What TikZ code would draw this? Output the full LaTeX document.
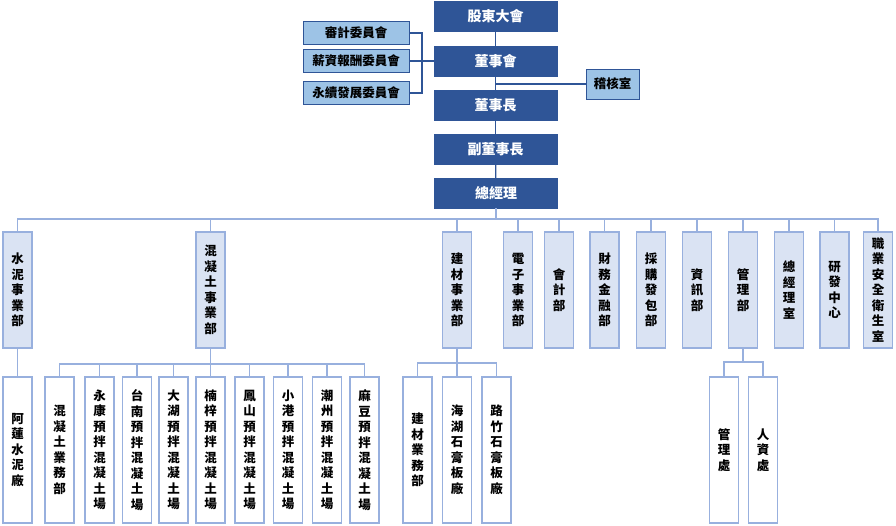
\documentclass[tikz,border=0pt]{standalone}
\usepackage{fontspec}
\newfontfamily\cjk{Noto Sans CJK TC}
\definecolor{darkBlue}{HTML}{2F5597}
\definecolor{midBlue}{HTML}{9DC3E6}
\definecolor{paleBlue}{HTML}{DAE3F3}
\definecolor{lineBlue}{HTML}{98B0DE}
\begin{document}
\begin{tikzpicture}[x=1pt, y=-1pt,
    topStyle/.style={rectangle, draw=darkBlue, fill=darkBlue, text=white, minimum width=123pt, minimum height=30pt, inner sep=0pt, font=\cjk\bfseries\fontsize{14}{16}\selectfont},
    sideStyle/.style={rectangle, draw=darkBlue, line width=1pt, fill=midBlue, minimum height=23pt, inner sep=0pt, font=\cjk\bfseries\fontsize{12.5}{15}\selectfont},
    deptStyle/.style={rectangle, draw=lineBlue, line width=1.2pt, fill=paleBlue, minimum width=29pt, minimum height=116pt, inner sep=0pt, align=center, font=\cjk\bfseries\fontsize{12.5}{15.5}\selectfont},
    unitStyle/.style={rectangle, draw=lineBlue, line width=1.2pt, fill=white, minimum width=29pt, minimum height=146pt, inner sep=0pt, align=center, font=\cjk\bfseries\fontsize{12.5}{15.5}\selectfont},
    topLine/.style={draw=darkBlue, line width=1.2pt},
    busLine/.style={draw=lineBlue, line width=1.2pt}]
    \useasboundingbox (0,0) rectangle (896,525);

    % top of the chart
    \node[topStyle](agm) at (495.5, 16) {股東大會};
    \node[topStyle](board) at (495.5, 61) {董事會};
    \node[topStyle](chair) at (495.5, 105) {董事長};
    \node[topStyle](vice) at (495.5, 149) {副董事長};
    \node[topStyle](gm) at (496, 193) {總經理};

    \node[sideStyle, minimum width=106pt](audit) at (356, 33) {審計委員會};
    \node[sideStyle, minimum width=106pt](salary) at (356, 61) {薪資報酬委員會};
    \node[sideStyle, minimum width=106pt](esg) at (356, 93) {永續發展委員會};
    \node[sideStyle, minimum width=53pt, minimum height=30pt](check) at (612.5, 84) {稽核室};

    \coordinate (cj) at (422, 61);
    \draw[topLine] (agm) -- (board);
    \draw[topLine] (board) -- (chair);
    \draw[topLine] (chair) -- (vice);
    \draw[topLine] (vice) -- (gm);
    \draw[topLine] (audit.east) -| (cj);
    \draw[topLine] (esg.east) -| (cj);
    \draw[topLine] (salary.east) -- (board.west);
    \draw[topLine] (check.west) -- (check.west -| board.south);

    % departments
    \node[deptStyle](cement) at (17.5, 290) {水\\泥\\事\\業\\部};
    \node[deptStyle](concrete) at (210.5, 290) {混\\凝\\土\\事\\業\\部};
    \node[deptStyle](build) at (457, 290) {建\\材\\事\\業\\部};
    \node[deptStyle](elec) at (518, 290) {電\\子\\事\\業\\部};
    \node[deptStyle](acct) at (559, 290) {會\\計\\部};
    \node[deptStyle](fin) at (604.5, 290) {財\\務\\金\\融\\部};
    \node[deptStyle](buy) at (651, 290) {採\\購\\發\\包\\部};
    \node[deptStyle](info) at (697, 290) {資\\訊\\部};
    \node[deptStyle](admin) at (743, 290) {管\\理\\部};
    \node[deptStyle](gmo) at (789, 290) {總\\經\\理\\室};
    \node[deptStyle](rd) at (834.5, 290) {研\\發\\中\\心};
    \node[deptStyle](safety) at (878, 290) {職\\業\\安\\全\\衛\\生\\室};

    \coordinate (bus) at (496, 219);
    \draw[busLine] (gm) -- (bus);
    \draw[busLine] (cement.north) |- (bus) -| (safety.north);
    \draw[busLine] (concrete.north) -- (concrete.north |- bus);
    \draw[busLine] (build.north) -- (build.north |- bus);
    \draw[busLine] (elec.north) -- (elec.north |- bus);
    \draw[busLine] (acct.north) -- (acct.north |- bus);
    \draw[busLine] (fin.north) -- (fin.north |- bus);
    \draw[busLine] (buy.north) -- (buy.north |- bus);
    \draw[busLine] (info.north) -- (info.north |- bus);
    \draw[busLine] (admin.north) -- (admin.north |- bus);
    \draw[busLine] (gmo.north) -- (gmo.north |- bus);
    \draw[busLine] (rd.north) -- (rd.north |- bus);

    % units
    \node[unitStyle](alian) at (17.5, 450) {阿\\蓮\\水\\泥\\廠};
    \node[unitStyle](c1) at (59.5, 450) {混\\凝\\土\\業\\務\\部};
    \node[unitStyle](c2) at (99.5, 450) {永\\康\\預\\拌\\混\\凝\\土\\場};
    \node[unitStyle](c3) at (137, 450) {台\\南\\預\\拌\\混\\凝\\土\\場};
    \node[unitStyle](c4) at (173.5, 450) {大\\湖\\預\\拌\\混\\凝\\土\\場};
    \node[unitStyle](c5) at (210.5, 450) {楠\\梓\\預\\拌\\混\\凝\\土\\場};
    \node[unitStyle](c6) at (249.5, 450) {鳳\\山\\預\\拌\\混\\凝\\土\\場};
    \node[unitStyle](c7) at (288, 450) {小\\港\\預\\拌\\混\\凝\\土\\場};
    \node[unitStyle](c8) at (327, 450) {潮\\州\\預\\拌\\混\\凝\\土\\場};
    \node[unitStyle](c9) at (364.5, 450) {麻\\豆\\預\\拌\\混\\凝\\土\\場};
    \node[unitStyle](b1) at (417.5, 450) {建\\材\\業\\務\\部};
    \node[unitStyle](b2) at (457, 450) {海\\湖\\石\\膏\\板\\廠};
    \node[unitStyle](b3) at (496.5, 450) {路\\竹\\石\\膏\\板\\廠};
    \node[unitStyle](m1) at (724, 450) {管\\理\\處};
    \node[unitStyle](m2) at (763, 450) {人\\資\\處};

    \coordinate (cbus) at (210.5, 364);
    \coordinate (bbus) at (457, 363);
    \coordinate (mbus) at (743, 362);
    \draw[busLine] (cement) -- (alian);
    \draw[busLine] (concrete) -- (cbus);
    \draw[busLine] (c1.north) |- (cbus) -| (c9.north);
    \draw[busLine] (c2.north) -- (c2.north |- cbus);
    \draw[busLine] (c3.north) -- (c3.north |- cbus);
    \draw[busLine] (c4.north) -- (c4.north |- cbus);
    \draw[busLine] (c5.north) -- (c5.north |- cbus);
    \draw[busLine] (c6.north) -- (c6.north |- cbus);
    \draw[busLine] (c7.north) -- (c7.north |- cbus);
    \draw[busLine] (c8.north) -- (c8.north |- cbus);
    \draw[busLine] (build) -- (bbus);
    \draw[busLine] (b1.north) |- (bbus) -| (b3.north);
    \draw[busLine] (b2.north) -- (b2.north |- bbus);
    \draw[busLine] (admin) -- (mbus);
    \draw[busLine] (m1.north) |- (mbus) -| (m2.north);
\end{tikzpicture}
\end{document}
